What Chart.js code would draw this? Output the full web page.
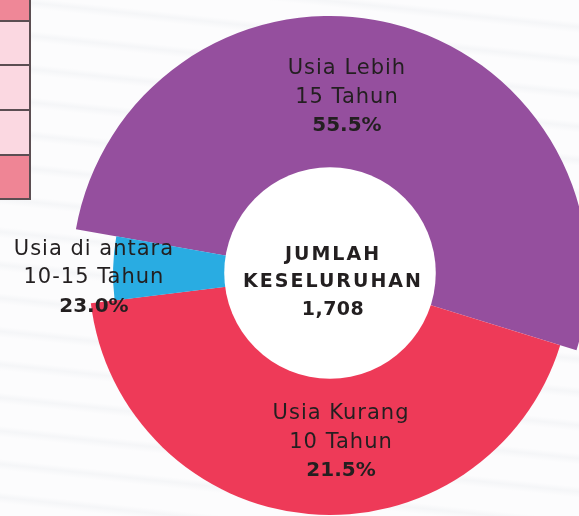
<!DOCTYPE html>
<html>
<head>
<meta charset="utf-8">
<script src="https://cdn.jsdelivr.net/npm/chart.js@4/dist/chart.umd.min.js"></script>
<style>
  html, body { margin: 0; padding: 0; width: 579px; height: 516px; overflow: hidden; }
  body {
    position: relative;
    background-color: #fbfbfc;
    background-image: repeating-linear-gradient(186deg, #fcfcfd 0px, #fcfcfd 22px, #f5f6f8 27px, #fcfcfd 33px);
  }
  #chart { position: absolute; left: 0; top: 0; }
  .tbl { position: absolute; left: 0; top: 0; width: 31px; height: 201px; }
  .cell { position: absolute; left: 0; width: 29px; }
  .vline { position: absolute; left: 29px; top: 0; width: 2px; height: 200px; background: #5b4e52; }
  .hline { position: absolute; left: 0; width: 30px; height: 2px; background: #5b4e52; }
</style>
</head>
<body>
<div class="tbl">
  <div class="cell" style="top:0;height:20px;background:#ef8797"></div>
  <div class="cell" style="top:21px;height:44px;background:#fbd8e1"></div>
  <div class="cell" style="top:66px;height:44px;background:#fbd8e1"></div>
  <div class="cell" style="top:110px;height:44px;background:#fbd8e1"></div>
  <div class="cell" style="top:155px;height:44px;background:#ef8595"></div>
  <div class="hline" style="top:20px"></div>
  <div class="hline" style="top:64px"></div>
  <div class="hline" style="top:109px"></div>
  <div class="hline" style="top:154px"></div>
  <div class="hline" style="top:198px"></div>
  <div class="vline"></div>
</div>
<canvas id="chart" width="600" height="540"></canvas>
<script>
// ---- data ----
const groups = ['Usia Lebih 15 Tahun', 'Usia Kurang 10 Tahun', 'Usia di antara 10-15 Tahun'];
const groupLines = [['Usia Lebih', '15 Tahun'], ['Usia Kurang', '10 Tahun'], ['Usia di antara', '10-15 Tahun']];
const shares = [55.5, 21.5, 23.0];            // printed percentages
const sliceDegrees = [187.2, 155.8, 17.0];    // sweep of each drawn slice (degrees)
const sliceReach = [100, 93.4, 84.1];         // radial extent of each drawn slice (% of largest)
const totalCount = 1708;
const centerTitle = ['JUMLAH', 'KESELURUHAN'];

// ---- styling / layout ----
const sliceColors = ['#954f9e', '#ee3a58', '#29ace2'];
const textColor = '#231f20';
const hubFraction = 0.41;
const labelAngle = [275.4, 86.2, 179.6];      // degrees, canvas convention
const labelDist = [0.697, 0.645, 0.915];      // fraction of outer radius
const FONT = '"DejaVu Sans", sans-serif';

const overlayPlugin = {
  id: 'overlay',
  afterDatasetsDraw(chart) {
    const ctx = chart.ctx;
    const s = chart.scales.r;
    const cx = s.xCenter, cy = s.yCenter, D = s.drawingArea;
    ctx.save();
    // white hub
    ctx.beginPath();
    ctx.arc(cx, cy - 1, D * hubFraction, 0, Math.PI * 2);
    ctx.fillStyle = '#ffffff';
    ctx.fill();
    ctx.fillStyle = textColor;
    ctx.textAlign = 'center';
    ctx.textBaseline = 'alphabetic';
    // slice labels
    groups.forEach((g, i) => {
      const a = labelAngle[i] * Math.PI / 180;
      const x = cx + Math.cos(a) * labelDist[i] * D;
      const y = cy + Math.sin(a) * labelDist[i] * D;
      const lines = [groupLines[i][0], groupLines[i][1], shares[i].toFixed(1) + '%'];
      lines.forEach((t, k) => {
        const bold = k === 2;
        ctx.font = (bold ? 'bold 20px ' : '21px ') + FONT;
        ctx.letterSpacing = bold ? '0px' : '1px';
        ctx.fillText(t, x, y + (k - 1) * 28.7 + 7.6);
      });
    });
    // center text
    const centerLines = [centerTitle[0], centerTitle[1], totalCount.toLocaleString('en-US')];
    centerLines.forEach((t, k) => {
      ctx.font = 'bold 19px ' + FONT;
      ctx.letterSpacing = k === 2 ? '0.5px' : '2px';
      ctx.fillText(t, cx + 3, cy + 6 + (k - 1) * 27.5 + 7);
    });
    ctx.restore();
  }
};

new Chart(document.getElementById('chart'), {
  type: 'polarArea',
  data: {
    labels: groups,
    datasets: [{
      data: sliceReach,
      backgroundColor: sliceColors,
      borderWidth: 0,
      angle: (c) => sliceDegrees[c.dataIndex]
    }]
  },
  options: {
    responsive: false,
    animation: false,
    startAngle: 280,
    layout: { padding: { left: 72, top: 16, right: 12, bottom: 8 } },
    plugins: { legend: { display: false }, tooltip: { enabled: false } },
    scales: {
      r: { display: false, min: 0, max: 100, startAngle: 280 }
    }
  },
  plugins: [overlayPlugin]
});
</script>
</body>
</html>
